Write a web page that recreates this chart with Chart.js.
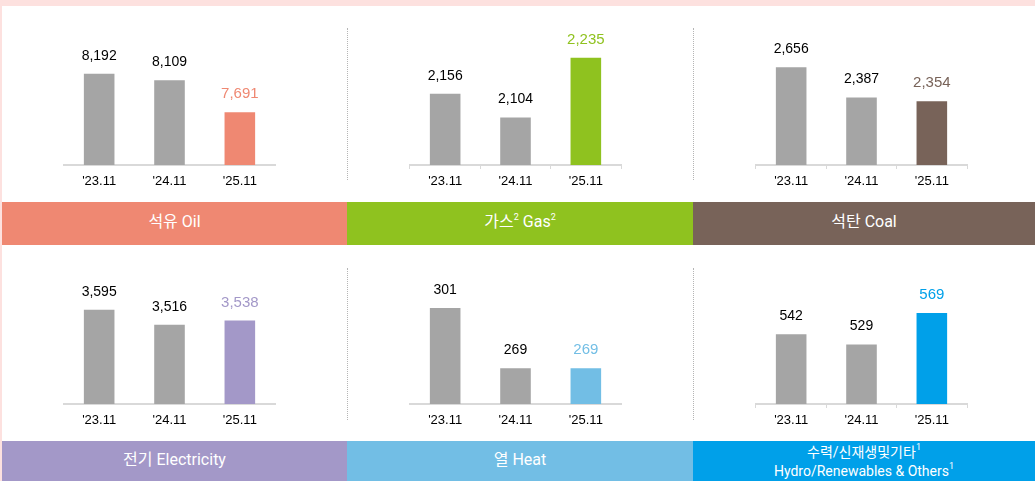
<!DOCTYPE html>
<html>
<head>
<meta charset="utf-8">
<script src="https://cdn.jsdelivr.net/npm/chart.js@4"></script>
<style>
  body { margin: 0; background: #fff; }
  #wrap { position: relative; width: 1035px; height: 481px; overflow: hidden; background: #fff; font-family: "Liberation Sans", Arial, sans-serif; }
  .strip { position: absolute; background: #fde1df; }
  canvas { position: absolute; }
  .band { position: absolute; display: flex; align-items: center; justify-content: center; box-sizing: border-box; padding-bottom: 3px;
          color: #fff; font-family: Roboto, "Noto Sans CJK KR", sans-serif; font-size: 16px; }
  .band > div { text-align: center; line-height: 20px; }
  .band.small { font-size: 14px; padding-bottom: 0; padding-top: 2px; }
  .band.small > div { line-height: 19px; }
  .band sup { font-size: 9px; vertical-align: 7px; line-height: 0; }
  .sep { position: absolute; width: 0; border-left: 1px dotted #b5b5b5; }
</style>
</head>
<body>
<div id="wrap">
  <div class="strip" style="left:0;top:0;width:1035px;height:6px"></div>
  <div class="strip" style="left:0;top:0;width:2px;height:481px"></div>
</div>
<script>
const categories = ["'23.11", "'24.11", "'25.11"];
const oil = [8192, 8109, 7691];
const gas = [2156, 2104, 2235];
const coal = [2656, 2387, 2354];
const electricity = [3595, 3516, 3538];
const heat = [301, 269, 269];
const hydro = [542, 529, 569];

// each panel's truncated value axis
const yRanges = [[7000, 8895], [2000, 2318], [1790, 3073], [3100, 3861], [250, 327], [453, 638]];

const panels = [
  { data: oil, color: '#ef8872', title: '석유 Oil', ticks: false },
  { data: gas, color: '#8fc21f', title: '가스<sup>2</sup> Gas<sup>2</sup>', ticks: true },
  { data: coal, color: '#786359', title: '석탄 Coal', ticks: true },
  { data: electricity, color: '#a398c8', title: '전기 Electricity', ticks: false },
  { data: heat, color: '#72bee5', title: '열 Heat', ticks: false },
  { data: hydro, color: '#00a0e9', title: '수력/신재생및기타<sup>1</sup><br>Hydro/Renewables &amp; Others<sup>1</sup>', ticks: true, small: true }
];

const wrap = document.getElementById('wrap');
const canvasX = [0, 346, 692];
const bandX = [[2, 347], [347, 693], [693, 1035]];

const valueLabels = {
  id: 'valueLabels',
  afterDatasetsDraw(chart) {
    const ctx = chart.ctx;
    const meta = chart.getDatasetMeta(0);
    const ds = chart.data.datasets[0];
    ctx.save();
    ctx.textAlign = 'center';
    ctx.textBaseline = 'middle';
    meta.data.forEach((bar, i) => {
      const last = i === meta.data.length - 1;
      ctx.fillStyle = last ? ds.backgroundColor[i] : '#000';
      ctx.font = (last ? '15px' : '14px') + ' "Liberation Sans", Arial, sans-serif';
      ctx.fillText(ds.data[i].toLocaleString('en-US'), bar.x, bar.y - 18);
    });
    ctx.restore();
  }
};

panels.forEach((p, k) => {
  const col = k % 3, row = Math.floor(k / 3);
  const cv = document.createElement('canvas');
  cv.width = 346; cv.height = 200;
  cv.style.left = canvasX[col] + 'px';
  cv.style.top = (row ? 239 : 0) + 'px';
  wrap.appendChild(cv);

  const band = document.createElement('div');
  band.className = 'band' + (p.small ? ' small' : '');
  band.style.left = bandX[col][0] + 'px';
  band.style.width = (bandX[col][1] - bandX[col][0]) + 'px';
  band.style.top = (row ? 441 : 202) + 'px';
  band.style.height = (row ? 40 : 43) + 'px';
  band.style.background = p.color;
  band.innerHTML = '<div>' + p.title + '</div>';
  wrap.appendChild(band);

  if (col > 0) {
    const sep = document.createElement('div');
    sep.className = 'sep';
    sep.style.left = bandX[col][0] + 'px';
    sep.style.top = (row ? 268 : 28) + 'px';
    sep.style.height = '152px';
    wrap.appendChild(sep);
  }

  new Chart(cv.getContext('2d'), {
    type: 'bar',
    data: {
      labels: categories,
      datasets: [{
        data: p.data,
        backgroundColor: ['#a5a5a5', '#a5a5a5', p.color],
        barPercentage: 0.435,
        categoryPercentage: 1
      }]
    },
    options: {
      responsive: false,
      animation: false,
      devicePixelRatio: 1,
      layout: { padding: { left: 64, right: 71, top: 20, bottom: 0 } },
      plugins: { legend: { display: false }, tooltip: { enabled: false } },
      scales: {
        x: {
          afterFit: s => { s.height = 35; },
          border: { display: true, color: '#d9d9d9', width: 2 },
          grid: { display: true, drawOnChartArea: false, drawTicks: true, tickLength: 4, offset: true,
                  color: p.ticks ? '#d9d9d9' : 'rgba(0,0,0,0)' },
          ticks: { color: '#000', padding: 5, font: { size: 13, family: '"Liberation Sans", Arial, sans-serif' } }
        },
        y: { display: false, min: yRanges[k][0], max: yRanges[k][1] }
      }
    },
    plugins: [valueLabels]
  });
});
</script>
</body>
</html>
